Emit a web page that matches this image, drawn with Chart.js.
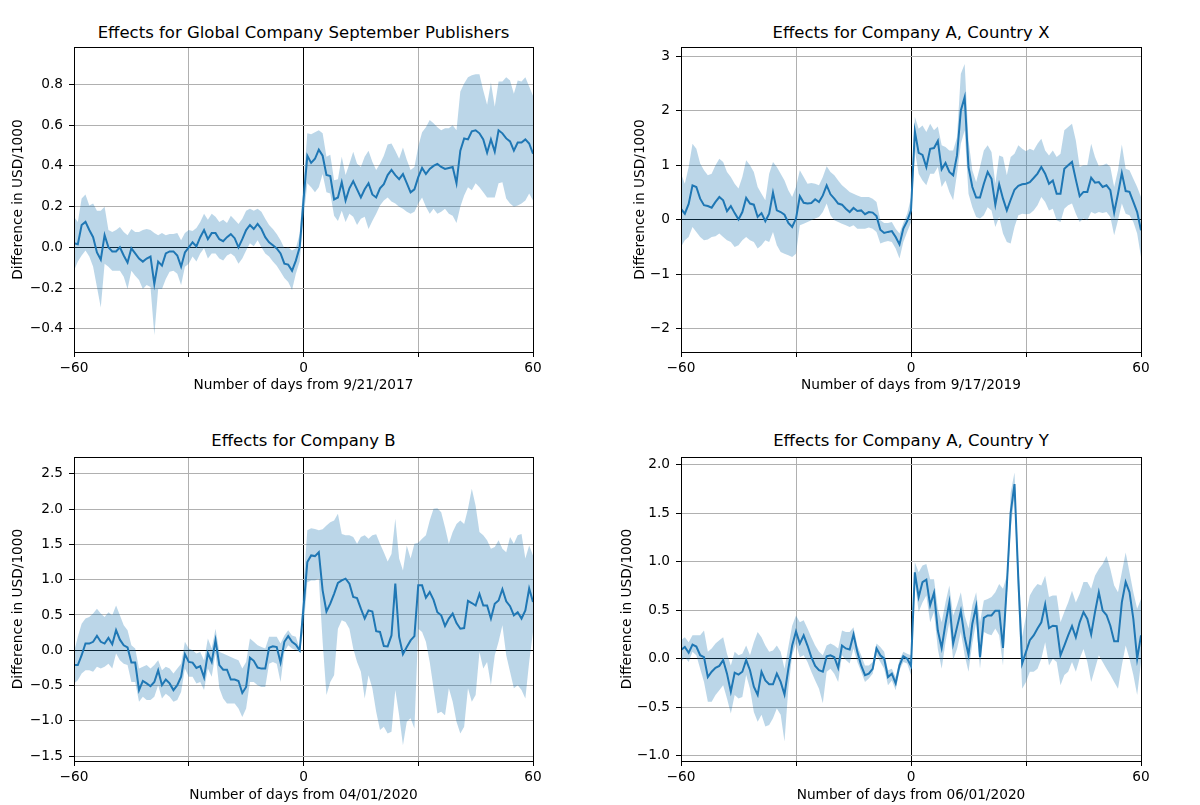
<!DOCTYPE html>
<html>
<head>
<meta charset="utf-8">
<script src="https://cdn.jsdelivr.net/npm/chart.js@4.4.1/dist/chart.umd.min.js"></script>
<style>
    body { margin: 0; background: #fff; width: 1200px; height: 805px; overflow: hidden; position: relative; font-family: 'DejaVu Sans', sans-serif; }
    canvas { position: absolute; }
    .title { position: absolute; font-size: 16.5px; line-height: 20px; text-align: center; color: #000; white-space: nowrap; }
</style>
</head>
<body>
<div class="title" style="left:74px; top:23px; width:459px;">Effects for Global Company September Publishers</div>
<div class="title" style="left:681px; top:23px; width:460px;">Effects for Company A, Country X</div>
<div class="title" style="left:74px; top:431px; width:459px;">Effects for Company B</div>
<div class="title" style="left:681px; top:431px; width:460px;">Effects for Company A, Country Y</div>
<canvas id="p1" width="560" height="400" style="left:0; top:0;"></canvas>
<canvas id="p2" width="546" height="400" style="left:622px; top:0;"></canvas>
<canvas id="p3" width="560" height="395" style="left:0; top:410px;"></canvas>
<canvas id="p4" width="559" height="395" style="left:609px; top:410px;"></canvas>
<script>
// days from the event, -60 .. 60
const days = Array.from({ length: 121 }, (_, i) => i - 60);
const xTicks = [-60, -30, 0, 30, 60];
const xTickLabels = ['\u221260', '', '0', '', '60'];

// Global Company September Publishers, 9/21/2017
const p1Mean = [
    0.02, 0.015, 0.11, 0.125, 0.085, 0.05, -0.025, -0.06, 0.06, 0.0,
    -0.02, -0.02, 0.0, -0.04, -0.075, -0.005, -0.03, -0.055, -0.07, -0.055,
    -0.045, -0.18, -0.07, -0.09, -0.03, -0.02, -0.02, -0.04, -0.095, -0.025,
    0.0, 0.025, 0.005, 0.05, 0.085, 0.04, 0.07, 0.07, 0.04, 0.03,
    0.05, 0.065, 0.045, 0.0, 0.04, 0.085, 0.11, 0.09, 0.115, 0.09,
    0.05, 0.025, 0.01, -0.005, -0.03, -0.08, -0.085, -0.115, -0.065, 0.0,
    0.23,
    0.45, 0.415, 0.435, 0.48, 0.45, 0.355, 0.35, 0.235, 0.245, 0.32,
    0.23, 0.29, 0.325, 0.285, 0.245, 0.285, 0.315, 0.26, 0.245, 0.29,
    0.31, 0.355, 0.38, 0.355, 0.335, 0.36, 0.315, 0.27, 0.285, 0.345,
    0.39, 0.36, 0.385, 0.4, 0.41, 0.395, 0.385, 0.39, 0.395, 0.315,
    0.475, 0.535, 0.53, 0.57, 0.575, 0.56, 0.53, 0.465, 0.53, 0.47,
    0.575, 0.56, 0.535, 0.52, 0.475, 0.515, 0.515, 0.53, 0.51, 0.46,
];
const p1Upper = [
    0.15, 0.125, 0.24, 0.26, 0.205, 0.215, 0.18, 0.18, 0.2, 0.085,
    0.075, 0.085, 0.1, 0.075, 0.06, 0.09, 0.075, 0.075, 0.085, 0.09,
    0.085, 0.07, 0.06, 0.07, 0.06, 0.065, 0.065, 0.07, 0.035, 0.07,
    0.085, 0.08, 0.095, 0.125, 0.165, 0.135, 0.165, 0.15, 0.125, 0.135,
    0.12, 0.155, 0.135, 0.115, 0.14, 0.18, 0.19, 0.18, 0.19, 0.175,
    0.14, 0.11, 0.09, 0.065, 0.035, -0.005, 0.0, -0.015, -0.005, 0.065,
    0.32,
    0.56, 0.555, 0.565, 0.575, 0.56, 0.445, 0.455, 0.33, 0.335, 0.445,
    0.355, 0.41, 0.47, 0.41, 0.395, 0.445, 0.475, 0.42, 0.38, 0.41,
    0.45, 0.505, 0.51, 0.475, 0.435, 0.49, 0.43, 0.38, 0.395, 0.495,
    0.565, 0.59, 0.625, 0.61, 0.59, 0.575, 0.585, 0.585, 0.6, 0.575,
    0.765, 0.805, 0.835, 0.845, 0.85, 0.85, 0.77, 0.7, 0.81, 0.69,
    0.815, 0.815, 0.835, 0.82, 0.755, 0.82, 0.815, 0.835, 0.79, 0.745,
];
const p1Lower = [
    -0.115, -0.07, -0.04, -0.015, -0.045, -0.095, -0.195, -0.295, -0.08, -0.095,
    -0.115, -0.115, -0.115, -0.145, -0.205, -0.115, -0.14, -0.16, -0.205, -0.185,
    -0.195, -0.43, -0.205, -0.205, -0.155, -0.12, -0.115, -0.13, -0.185, -0.095,
    -0.08, -0.045, -0.07, -0.03, -0.005, -0.055, -0.03, -0.03, -0.055, -0.065,
    -0.04, -0.03, -0.045, -0.08, -0.055, -0.015, 0.02, 0.005, 0.035, 0.0,
    -0.03, -0.045, -0.07, -0.09, -0.12, -0.15, -0.17, -0.21, -0.13, -0.07,
    0.14,
    0.315, 0.295, 0.27, 0.295, 0.36, 0.27, 0.265, 0.155, 0.13, 0.18,
    0.125, 0.165, 0.15, 0.11, 0.14, 0.15, 0.09, 0.13, 0.165, 0.205,
    0.23, 0.245, 0.225, 0.215, 0.2, 0.19, 0.175, 0.165, 0.175, 0.215,
    0.245, 0.2, 0.165, 0.19, 0.165, 0.175, 0.19, 0.165, 0.155, 0.12,
    0.2, 0.255, 0.295, 0.28, 0.315, 0.295, 0.27, 0.245, 0.245, 0.245,
    0.315, 0.32, 0.24, 0.215, 0.2, 0.205, 0.215, 0.23, 0.265, 0.23,
];
const p1YTicks = [-0.4, -0.2, 0, 0.2, 0.4, 0.6, 0.8];
const p1YLabels = ['\u22120.4', '\u22120.2', '0.0', '0.2', '0.4', '0.6', '0.8'];

// Company A, Country X, 9/17/2019
const p2Mean = [
    0.2, 0.11, 0.29, 0.63, 0.6, 0.385, 0.265, 0.25, 0.22, 0.325,
    0.415, 0.355, 0.155, 0.25, 0.12, 0.005, 0.14, 0.4, 0.295, 0.275,
    0.05, 0.12, -0.03, 0.11, 0.495, 0.17, 0.14, 0.09, -0.06, -0.135,
    0.02, 0.43, 0.31, 0.295, 0.305, 0.375, 0.325, 0.445, 0.63, 0.465,
    0.385, 0.295, 0.275, 0.2, 0.14, 0.215, 0.16, 0.17, 0.1, 0.14,
    0.13, 0.065, -0.185, -0.245, -0.225, -0.21, -0.32, -0.455, -0.165, -0.025,
    0.17,
    1.625, 1.225, 1.19, 0.965, 1.3, 1.315, 1.445, 0.925, 1.04, 0.875,
    0.815, 1.18, 2.005, 2.25, 0.965, 0.6, 0.405, 0.405, 0.66, 0.875,
    0.75, 0.275, 0.65, 0.385, 0.17, 0.365, 0.55, 0.62, 0.65, 0.66,
    0.69, 0.765, 0.845, 0.965, 0.845, 0.66, 0.72, 0.475, 0.475, 0.935,
    1.0, 1.06, 0.735, 0.43, 0.51, 0.51, 0.77, 0.68, 0.69, 0.6,
    0.63, 0.54, 0.13, 0.475, 0.855, 0.525, 0.51, 0.325, 0.14, -0.195,
];
const p2Upper = [
    0.845, 0.66, 0.965, 1.395, 1.3, 1.03, 0.905, 0.815, 0.845, 1.0,
    1.12, 1.06, 0.875, 0.785, 0.66, 0.57, 0.785, 1.09, 1.0, 0.875,
    0.6, 0.475, 0.355, 0.845, 1.06, 0.965, 0.845, 0.72, 0.54, 0.415,
    0.6, 0.905, 0.785, 0.66, 0.675, 0.66, 0.63, 0.785, 0.98, 0.875,
    0.815, 0.72, 0.63, 0.57, 0.51, 0.475, 0.445, 0.415, 0.415, 0.415,
    0.385, 0.325, -0.01, -0.06, -0.06, -0.045, -0.165, -0.255, -0.06, 0.11,
    0.4,
    1.885, 1.67, 1.73, 1.61, 1.76, 1.64, 1.71, 1.365, 1.335, 1.27,
    1.27, 1.515, 2.68, 2.86, 1.455, 0.905, 0.69, 0.965, 1.27, 1.365,
    1.24, 0.66, 1.18, 1.15, 0.815, 1.15, 1.21, 1.365, 1.3, 1.255,
    1.3, 1.27, 1.395, 1.485, 1.27, 1.18, 1.27, 1.15, 1.21, 1.64,
    1.7, 1.76, 1.455, 0.965, 1.0, 1.0, 1.395, 1.15, 0.98, 1.0,
    1.03, 0.965, 0.6, 0.905, 1.38, 0.935, 0.905, 0.75, 0.6, 0.415,
];
const p2Lower = [
    -0.5, -0.38, -0.32, -0.135, -0.225, -0.32, -0.38, -0.365, -0.32, -0.305,
    -0.255, -0.32, -0.38, -0.41, -0.5, -0.47, -0.38, -0.32, -0.38, -0.41,
    -0.53, -0.47, -0.38, -0.41, -0.225, -0.47, -0.595, -0.625, -0.655, -0.685,
    -0.625, -0.105, -0.075, -0.045, -0.01, 0.02, 0.05, 0.14, 0.295, 0.08,
    -0.01, -0.045, -0.075, -0.105, -0.135, -0.105, -0.165, -0.165, -0.165, -0.145,
    -0.165, -0.225, -0.44, -0.41, -0.39, -0.41, -0.53, -0.715, -0.41, -0.225,
    -0.05,
    1.27, 0.845, 0.72, 0.63, 0.845, 0.845, 0.965, 0.6, 0.72, 0.51,
    0.355, 0.845, 1.395, 1.64, 0.475, 0.23, 0.05, 0.02, 0.08, 0.23,
    0.17, -0.135, 0.05, -0.255, -0.41, -0.44, -0.135, 0.08, 0.11, 0.1,
    0.11, 0.17, 0.265, 0.415, 0.325, 0.17, 0.2, -0.01, -0.045, 0.2,
    0.265, 0.295, 0.11, -0.045, 0.02, -0.01, 0.14, 0.11, 0.14, 0.12,
    0.14, 0.05, -0.285, -0.01, 0.295, 0.11, 0.08, -0.045, -0.255, -0.685,
];
const p2YTicks = [-2, -1, 0, 1, 2, 3];
const p2YLabels = ['\u22122', '\u22121', '0', '1', '2', '3'];

// Company B, 04/01/2020
const p3Mean = [
    -0.21, -0.21, -0.07, 0.095, 0.095, 0.12, 0.205, 0.12, 0.095, 0.175,
    0.085, 0.285, 0.15, 0.07, 0.04, -0.175, -0.175, -0.565, -0.435, -0.47,
    -0.51, -0.45, -0.285, -0.495, -0.415, -0.47, -0.565, -0.495, -0.375, -0.055,
    -0.165, -0.175, -0.25, -0.225, -0.385, -0.04, -0.165, 0.14, -0.21, -0.275,
    -0.275, -0.415, -0.415, -0.435, -0.605, -0.52, -0.105, -0.15, -0.245, -0.26,
    -0.26, 0.035, 0.055, 0.045, -0.175, 0.12, 0.2, 0.12, 0.08, 0.0,
    0.6,
    1.25, 1.345, 1.335, 1.39, 0.85, 0.55, 0.66, 0.8, 0.955, 0.99,
    1.015, 0.945, 0.755, 0.74, 0.59, 0.45, 0.565, 0.55, 0.27, 0.26,
    0.06, 0.055, 0.21, 0.945, 0.19, -0.055, 0.045, 0.14, 0.2, 0.92,
    0.92, 0.745, 0.825, 0.715, 0.54, 0.495, 0.345, 0.45, 0.52, 0.385,
    0.305, 0.315, 0.7, 0.67, 0.635, 0.8, 0.635, 0.635, 0.45, 0.66,
    0.705, 0.865, 0.695, 0.625, 0.495, 0.54, 0.45, 0.565, 0.875, 0.685,
];
const p3Upper = [
    -0.025, 0.19, 0.375, 0.45, 0.47, 0.52, 0.59, 0.52, 0.47, 0.54,
    0.495, 0.635, 0.495, 0.355, 0.285, 0.07, 0.025, -0.26, -0.235, -0.21,
    -0.26, -0.21, -0.14, -0.285, -0.235, -0.26, -0.33, -0.26, -0.19, 0.12,
    0.025, 0.0, -0.045, -0.025, -0.14, 0.165, 0.025, 0.305, -0.025, -0.045,
    -0.07, -0.095, -0.12, -0.14, -0.26, -0.165, 0.165, 0.12, 0.07, 0.045,
    0.025, 0.19, 0.19, 0.19, 0.095, 0.21, 0.285, 0.21, 0.19, 0.025,
    0.95,
    1.7, 1.73, 1.72, 1.7, 1.715, 1.77, 1.815, 1.84, 1.935, 1.65,
    1.63, 1.63, 1.605, 1.51, 1.605, 1.63, 1.58, 1.63, 1.645, 1.51,
    1.39, 1.26, 1.365, 1.865, 1.3, 1.13, 1.485, 1.3, 1.51, 1.525,
    1.58, 1.63, 1.84, 2.005, 2.015, 1.955, 1.745, 1.51, 1.675, 1.79,
    1.84, 1.79, 2.005, 2.29, 2.05, 1.675, 1.63, 1.56, 1.44, 1.465,
    1.56, 1.44, 1.39, 1.605, 1.51, 1.63, 1.65, 1.3, 1.485, 1.345,
];
const p3Lower = [
    -0.47, -0.425, -0.33, -0.285, -0.285, -0.305, -0.235, -0.26, -0.235, -0.19,
    -0.26, -0.045, -0.14, -0.19, -0.21, -0.45, -0.45, -0.73, -0.66, -0.705,
    -0.705, -0.66, -0.495, -0.685, -0.615, -0.66, -0.73, -0.705, -0.59, -0.26,
    -0.375, -0.375, -0.47, -0.45, -0.565, -0.26, -0.375, -0.045, -0.54, -0.685,
    -0.755, -0.755, -0.755, -0.825, -0.945, -0.825, -0.45, -0.45, -0.495, -0.52,
    -0.52, -0.19, -0.165, -0.19, -0.45, -0.025, 0.07, 0.025, 0.0, -0.025,
    0.3,
    0.965, 0.99, 0.99, 1.015, 0.12, -0.635, -0.45, -0.355, 0.305, 0.425,
    0.4, 0.305, 0.025, -0.165, -0.305, -0.685, -0.355, -0.54, -0.87, -1.13,
    -1.085, -1.18, -1.155, -0.565, -0.92, -1.345, -1.015, -0.965, -1.11, 0.305,
    0.26, 0.12, -0.165, -0.54, -0.895, -0.87, -0.92, -0.54, -0.73, -1.015,
    -1.18, -1.085, -0.54, -0.73, -0.635, -0.025, -0.26, -0.165, -0.495, -0.07,
    0.12, 0.355, -0.07, -0.305, -0.54, -0.495, -0.565, -0.685, -0.165, 0.26,
];
const p3YTicks = [-1.5, -1, -0.5, 0, 0.5, 1, 1.5, 2, 2.5];
const p3YLabels = ['\u22121.5', '\u22121.0', '\u22120.5', '0.0', '0.5', '1.0', '1.5', '2.0', '2.5'];

// Company A, Country Y, 06/01/2020
const p4Mean = [
    0.09, 0.12, 0.06, 0.145, 0.125, 0.035, 0.015, -0.19, -0.135, -0.095,
    -0.075, -0.015, -0.155, -0.34, -0.145, -0.165, -0.135, -0.015, -0.12, -0.29,
    -0.375, -0.135, -0.225, -0.265, -0.265, -0.155, -0.24, -0.37, -0.105, 0.135,
    0.28, 0.155, 0.24, 0.135, 0.015, -0.075, -0.12, -0.135, 0.025, 0.035,
    0.015, -0.095, 0.135, 0.105, 0.095, 0.25, 0.07, -0.07, -0.17, -0.155,
    -0.105, 0.105, 0.035, 0.0, -0.19, -0.155, -0.255, -0.07, 0.025, 0.0,
    -0.075,
    0.89, 0.635, 0.79, 0.815, 0.55, 0.68, 0.29, 0.11, 0.36, 0.58,
    0.155, 0.325, 0.49, 0.22, 0.04, 0.36, 0.54, 0.015, 0.42, 0.445,
    0.445, 0.495, 0.495, 0.11, 0.755, 1.505, 1.8, 0.82, -0.05, 0.07,
    0.19, 0.24, 0.31, 0.375, 0.56, 0.315, 0.34, 0.335, 0.035, 0.135,
    0.24, 0.335, 0.22, 0.375, 0.48, 0.41, 0.25, 0.48, 0.685, 0.495,
    0.45, 0.34, 0.18, 0.18, 0.58, 0.79, 0.685, 0.41, 0.0, 0.24,
];
const p4Upper = [
    0.19, 0.22, 0.17, 0.24, 0.24, 0.24, 0.29, 0.07, 0.105, 0.155,
    0.19, 0.22, 0.05, -0.07, 0.07, 0.035, 0.05, 0.135, 0.035, 0.17,
    0.275, 0.22, 0.135, 0.07, 0.085, 0.135, 0.07, -0.105, 0.12, 0.34,
    0.445, 0.375, 0.395, 0.31, 0.22, 0.135, 0.07, 0.035, 0.135, 0.155,
    0.135, 0.105, 0.29, 0.275, 0.275, 0.325, 0.135, 0.035, -0.07, -0.07,
    -0.035, 0.155, 0.12, 0.07, -0.12, -0.105, -0.19, -0.015, 0.07, 0.05,
    0.035,
    0.995, 0.89, 0.96, 0.975, 0.82, 0.82, 0.515, 0.375, 0.58, 0.755,
    0.445, 0.55, 0.685, 0.445, 0.31, 0.55, 0.685, 0.375, 0.6, 0.615,
    0.635, 0.685, 0.77, 0.72, 0.855, 1.71, 1.92, 0.995, 0.225, 0.445,
    0.65, 0.72, 0.77, 0.755, 0.855, 0.635, 0.65, 0.65, 0.375, 0.48,
    0.58, 0.7, 0.58, 0.67, 0.79, 0.79, 0.72, 0.855, 0.925, 0.975,
    1.06, 0.925, 0.755, 0.685, 0.89, 1.095, 0.89, 0.685, 0.515, 0.615,
];
const p4Lower = [
    -0.035, 0.015, -0.035, 0.07, 0.035, -0.105, -0.24, -0.445, -0.445, -0.375,
    -0.325, -0.275, -0.41, -0.565, -0.375, -0.41, -0.395, -0.17, -0.31, -0.55,
    -0.65, -0.58, -0.7, -0.685, -0.615, -0.515, -0.58, -0.855, -0.31, 0.035,
    0.155, 0.015, 0.035, -0.035, -0.135, -0.225, -0.31, -0.46, -0.135, -0.105,
    -0.155, -0.24, 0.035, -0.015, -0.05, 0.105, -0.035, -0.135, -0.24, -0.205,
    -0.155, 0.035, -0.035, -0.105, -0.275, -0.225, -0.325, -0.12, -0.035, -0.05,
    -0.17,
    0.79, 0.48, 0.58, 0.65, 0.375, 0.48, 0.1, -0.105, 0.17, 0.375,
    -0.015, 0.1, 0.275, 0.035, -0.135, 0.155, 0.375, -0.105, 0.275, 0.255,
    0.24, 0.31, 0.24, -0.07, 0.65, 1.335, 1.68, 0.58, -0.31, -0.24,
    -0.135, -0.135, -0.105, 0.0, 0.17, -0.07, 0.0, -0.035, -0.275, -0.17,
    -0.135, -0.035, -0.135, 0.0, 0.1, -0.035, -0.24, -0.105, 0.035, -0.035,
    -0.105, -0.17, -0.24, -0.31, -0.07, 0.135, 0.0, -0.17, -0.375, -0.035,
];
const p4YTicks = [-1, -0.5, 0, 0.5, 1, 1.5, 2];
const p4YLabels = ['\u22121.0', '\u22120.5', '0.0', '0.5', '1.0', '1.5', '2.0'];

Chart.defaults.font.family = "'DejaVu Sans', sans-serif";
Chart.defaults.color = '#000';

const lineColor = '#1f77b4';
const bandColor = 'rgba(31, 119, 180, 0.3)';
const gridGray = '#b0b0b0';
const tickFont = { size: 13.7 };

// matplotlib draws a box round every axes
const frame = {
    id: 'frame',
    afterDatasetsDraw(chart) {
        const { ctx, chartArea: a } = chart;
        ctx.save();
        ctx.strokeStyle = '#000';
        ctx.lineWidth = 1;
        ctx.strokeRect(Math.round(a.left) + 0.5, Math.round(a.top) + 0.5,
            Math.round(a.right) - Math.round(a.left), Math.round(a.bottom) - Math.round(a.top));
        ctx.restore();
    },
};

const zeroGrid = (ctx) => (ctx.tick && ctx.tick.value === 0 ? '#000' : gridGray);

function drawPanel(id, panel) {
    return new Chart(document.getElementById(id), {
        type: 'line',
        data: {
            labels: days,
            datasets: [
                { data: panel.mean, borderColor: lineColor, borderWidth: 2, pointRadius: 0, fill: false, tension: 0 },
                { data: panel.upper, borderColor: 'transparent', borderWidth: 0, pointRadius: 0, backgroundColor: bandColor, fill: '+1', tension: 0 },
                { data: panel.lower, borderColor: 'transparent', borderWidth: 0, pointRadius: 0, fill: false, tension: 0 },
            ],
        },
        options: {
            responsive: false,
            animation: false,
            events: [],
            layout: { padding: { left: 0, right: 27, top: 47, bottom: 0 } },
            plugins: { legend: { display: false }, tooltip: { enabled: false } },
            scales: {
                x: {
                    type: 'linear',
                    min: -60,
                    max: 60,
                    afterBuildTicks: (scale) => { scale.ticks = xTicks.map((v) => ({ value: v })); },
                    afterFit: (scale) => { scale.height = panel.xAxisHeight; },
                    ticks: {
                        autoSkip: false,
                        maxRotation: 0,
                        padding: 3,
                        font: tickFont,
                        callback: (value, index) => xTickLabels[index],
                    },
                    grid: { color: zeroGrid, lineWidth: 1, tickColor: '#000', tickLength: 5 },
                    border: { display: false },
                    title: {
                        display: true,
                        text: panel.xTitle,
                        font: tickFont,
                        padding: { top: 0, bottom: panel.xTitlePad },
                    },
                },
                y: {
                    min: panel.yMin,
                    max: panel.yMax,
                    afterBuildTicks: (scale) => { scale.ticks = panel.yTicks.map((v) => ({ value: v })); },
                    afterFit: (scale) => { scale.width = panel.yAxisWidth; },
                    ticks: {
                        padding: 6,
                        font: tickFont,
                        callback: (value, index) => panel.yLabels[index],
                    },
                    grid: { color: zeroGrid, lineWidth: 1, tickColor: '#000', tickLength: 5 },
                    border: { display: false },
                    title: {
                        display: true,
                        text: 'Difference in USD/1000',
                        font: tickFont,
                        padding: { top: 10, bottom: 0 },
                    },
                },
            },
        },
        plugins: [frame],
    });
}

drawPanel('p1', {
    mean: p1Mean, upper: p1Upper, lower: p1Lower,
    yTicks: p1YTicks, yLabels: p1YLabels, yMin: -0.514, yMax: 0.984,
    xTitle: 'Number of days from 9/21/2017',
    yAxisWidth: 74, xAxisHeight: 48, xTitlePad: 6,
});
drawPanel('p2', {
    mean: p2Mean, upper: p2Upper, lower: p2Lower,
    yTicks: p2YTicks, yLabels: p2YLabels, yMin: -2.43, yMax: 3.17,
    xTitle: 'Number of days from 9/17/2019',
    yAxisWidth: 59, xAxisHeight: 48, xTitlePad: 6,
});
drawPanel('p3', {
    mean: p3Mean, upper: p3Upper, lower: p3Lower,
    yTicks: p3YTicks, yLabels: p3YLabels, yMin: -1.57, yMax: 2.74,
    xTitle: 'Number of days from 04/01/2020',
    yAxisWidth: 74, xAxisHeight: 44, xTitlePad: 1,
});
drawPanel('p4', {
    mean: p4Mean, upper: p4Upper, lower: p4Lower,
    yTicks: p4YTicks, yLabels: p4YLabels, yMin: -1.056, yMax: 2.08,
    xTitle: 'Number of days from 06/01/2020',
    yAxisWidth: 72, xAxisHeight: 44, xTitlePad: 1,
});
</script>
</body>
</html>
